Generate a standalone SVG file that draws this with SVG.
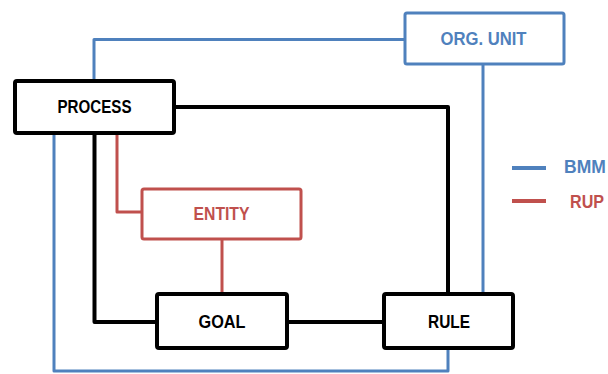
<svg xmlns="http://www.w3.org/2000/svg" width="608" height="374" viewBox="0 0 608 374">
  <style>
    .box { fill: #ffffff; }
    .blk { stroke: #000000; stroke-width: 4; }
    .blu { stroke: #4F81BD; stroke-width: 3; }
    .red { stroke: #C0504D; stroke-width: 3; }
    .wire { fill: none; stroke-linejoin: round; }
    text { font-family: "Liberation Sans", Arial, sans-serif; font-weight: bold; font-size: 17.5px; text-anchor: middle; }
    .tb { fill: #000000; }
    .tu { fill: #4F81BD; }
    .tr { fill: #C0504D; }
  </style>

  <g id="connectors">
    <!-- BMM links (blue) -->
    <polyline class="wire blu" points="94,81 94,39.5 405,39.5"/>
    <polyline class="wire blu" points="483,64 483,294"/>
    <polyline class="wire blu" points="54,133 54,371 448,371 448,348"/>
    <!-- RUP links (red) -->
    <polyline class="wire red" points="117,133 117,212 142,212"/>
    <polyline class="wire red" points="222,239 222,294"/>
    <!-- plain links (black) -->
    <polyline class="wire blk" points="174,107 448,107 448,294"/>
    <polyline class="wire blk" points="94.5,133 94.5,322 157,322"/>
    <polyline class="wire blk" points="287,322 384,322"/>
  </g>

  <g id="process">
    <rect class="box blk" x="15" y="81" width="159" height="52" rx="2"/>
    <text class="tb" x="94.5" y="113" textLength="74" lengthAdjust="spacingAndGlyphs">PROCESS</text>
  </g>

  <g id="org-unit">
    <rect class="box blu" x="405" y="13" width="159" height="51" rx="2"/>
    <text class="tu" x="483.5" y="45" textLength="86" lengthAdjust="spacingAndGlyphs">ORG. UNIT</text>
  </g>

  <g id="entity">
    <rect class="box red" x="142" y="189" width="159" height="50" rx="2"/>
    <text class="tr" x="221.5" y="220" textLength="56" lengthAdjust="spacingAndGlyphs">ENTITY</text>
  </g>

  <g id="goal">
    <rect class="box blk" x="157" y="294" width="130" height="54" rx="2"/>
    <text class="tb" x="222" y="328" textLength="47" lengthAdjust="spacingAndGlyphs">GOAL</text>
  </g>

  <g id="rule">
    <rect class="box blk" x="384" y="294" width="129" height="54" rx="2"/>
    <text class="tb" x="449" y="328" textLength="42" lengthAdjust="spacingAndGlyphs">RULE</text>
  </g>

  <g id="legend">
    <line class="blu" x1="512" y1="168" x2="546" y2="168" style="stroke-width:4"/>
    <text class="tu" x="564" y="173" style="text-anchor:start">BMM</text>
    <line class="red" x1="512" y1="201" x2="546" y2="201" style="stroke-width:4"/>
    <text class="tr" x="570" y="208" style="text-anchor:start" textLength="34" lengthAdjust="spacingAndGlyphs">RUP</text>
  </g>
</svg>
